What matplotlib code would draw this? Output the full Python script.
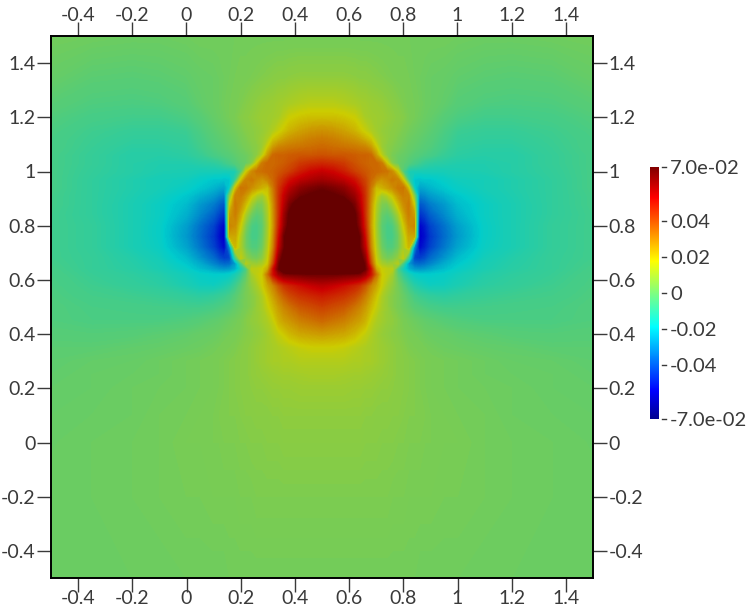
import matplotlib
matplotlib.use("Agg")
import matplotlib.pyplot as plt
import numpy as np
from matplotlib.cm import ScalarMappable
from matplotlib.colors import LinearSegmentedColormap, Normalize

plt.rcParams["font.family"] = ["Lato", "DejaVu Sans"]

# Data, field (units of 1e-3), left half, mirrored about x = 0.5
half_x = [0.5, 0.46, 0.42, 0.38, 0.36, 0.34, 0.32, 0.30, 0.28, 0.26, 0.24, 0.22,
          0.20, 0.18, 0.16, 0.14, 0.12, 0.10, 0.05, 0.0, -0.1, -0.2, -0.35, -0.5]
rows_y = [1.5, 1.35, 1.25, 1.2, 1.15, 1.12, 1.09, 1.06, 1.03, 1.0, 0.97, 0.94, 0.91, 0.88,
          0.84, 0.8, 0.76, 0.72, 0.68, 0.66, 0.64, 0.62, 0.58, 0.54, 0.5, 0.45, 0.4, 0.35,
          0.3, 0.25, 0.2, 0.1, 0.0, -0.2, -0.5]
field_half = [
    [2, 2, 2, 2, 2, 2, 2, 2, 2, 2, 2, 2, 2, 2, 2, 2, 2, 2, 2, 1.5, 1, 1, 1.5, 2],
    [7, 7, 7, 6.5, 6, 6, 5.5, 5, 4.5, 4, 3.5, 3, 3, 2.5, 2, 1.5, 1, 0.5, 0, -1, -2, -2.5, -2, 0],
    [14, 14, 13, 11.5, 10.5, 10, 9, 8.5, 8, 7, 6, 5, 4, 3, 2.5, 2, 1, 0.5, -1, -3, -4.5, -5, -4.5, -2.5],
    [20, 20, 19, 17, 14, 11, 10, 9.5, 9, 8, 7, 6, 5, 3.5, 2.5, 1.5, 0.5, -0.5, -3, -5, -7, -7, -6, -4],
    [28, 27, 25, 22, 19, 16, 12.5, 10, 8, 7, 6, 5, 3.5, 2, 1, 0, -1, -2, -5, -8, -9, -9, -7.5, -5],
    [32, 31, 29, 27, 25, 22, 19, 12, 9, 7, 5.5, 4, 2.5, 1, 0, -1, -2, -3, -6, -9, -10, -10, -8, -5.5],
    [35, 34, 33, 32, 31, 30, 26, 18, 9, 6, 4.5, 3, 1.5, 0, -1, -2, -3, -4, -7, -10, -11, -11, -8.5, -5.5],
    [39, 38, 38, 37, 36, 36, 35, 26, 14, 6, 3, 1, 0, -1.5, -3, -4, -5, -6, -9, -11, -12, -12, -9, -6],
    [46, 45, 43, 39, 37, 36, 35, 35, 32, 18, 5, 0, -1.5, -4, -6, -8, -10, -11, -12, -13, -13, -12, -9, -6],
    [54, 52, 48, 42, 40, 38, 36, 35, 34, 33, 28, 16, -5, -14, -15, -15, -15, -15, -15, -14, -13.5, -12, -9.5, -6],
    [60, 58, 55, 50, 45, 41, 35, 30, 27, 29, 32, 30, 17, -10, -20, -21, -20, -20, -18, -16, -15, -13, -10, -6],
    [68, 66, 63, 56, 50, 43, 32, 20, 22, 25, 28, 32, 33, 18, -18, -26, -25, -23, -20, -17.5, -15, -13, -10, -6],
    [73, 71, 68, 61, 54, 44, 30, 17, 9, 12, 18, 26, 31, 30, 5, -33, -31, -28, -24, -20, -16, -13.5, -10, -6.5],
    [85, 83, 76, 66, 56, 44, 28, 13, 4, 3, 10, 20, 28, 32, 17, -40, -37, -33, -28, -22, -17, -14, -10, -6.5],
    [85, 85, 82, 71, 60, 44, 27, 11, 0, -3, 1, 10, 23, 31, 26, -47, -43, -38, -31, -24, -17, -14, -10, -7],
    [85, 85, 84, 73, 62, 46, 26, 10, -2, -6, -5, 3, 17, 28, 30, -55, -50, -43, -35, -27, -17.5, -14, -9.5, -7],
    [85, 85, 84, 78, 68, 50, 28, 11, -1, -6, -6, 0, 12, 24, 24, -56, -52, -45, -36, -28, -17.5, -14, -9.5, -7],
    [85, 85, 85, 80, 68, 54, 30, 13, 1, -4, -4, 1, 11, 21, -30, -54, -49, -43, -34, -26, -17, -14, -9.5, -7],
    [85, 85, 85, 84, 74, 62, 36, 16, 6, 2, 3, 7, 15, -10, -42, -44, -41, -36, -29, -22, -15.5, -12.5, -9, -7],
    [85, 85, 85, 84, 78, 66, 40, 18, 11, 8, 9, 13, -8, -28, -36, -37, -35, -32, -25, -20, -14.5, -12, -9, -6.5],
    [85, 85, 85, 84, 78, 68, 50, 24, 17, 15, 14, -6, -16, -24, -28, -29, -28, -26, -22, -18, -14, -11.5, -9, -6],
    [68, 68, 67, 66, 65, 60, 50, 33, 18, 15, 10, -2, -10, -15, -18, -19, -19, -19, -18, -16, -12.5, -10.5, -8.5, -5.5],
    [56, 54, 51, 47, 44, 38, 30, 24, 17, 11, 7, 2, -3, -8, -12, -14, -15.5, -16.5, -16, -14, -11, -9.5, -7.5, -5],
    [48, 46, 44, 40, 36, 31, 25, 19, 12, 8, 5, 3, 0, -3, -6, -8, -9, -10, -11, -10, -8.5, -7.5, -6.5, -4.5],
    [42, 40, 38, 33, 30, 26, 21, 16, 11, 8, 5, 3, 1, -1, -3, -4, -5, -6, -7, -7, -6.5, -6, -5.5, -4],
    [35, 33, 31, 27, 25, 22, 16, 12, 10, 8, 7, 5, 3, 2, 1, 0, -1, -1.5, -3, -4, -5, -5, -5, -4],
    [26, 25, 24, 21, 18, 15.5, 12.5, 10, 8, 7, 6, 5, 4, 3, 2.5, 2, 1, 0.5, 0, -1, -2, -3, -3.5, -3],
    [17, 17, 16, 14, 13, 12, 11, 10, 9, 8, 7, 6, 5, 4, 3.5, 3, 2.5, 2, 1, 0.5, -0.5, -1, -2, -2],
    [13, 13, 13, 12, 12, 11, 11, 10, 9, 8, 7, 6, 5.5, 5, 4.5, 4, 3.5, 3, 2.5, 2, 1, 0, -0.5, -1.5],
    [11, 11, 10.5, 10, 10, 9.5, 9, 8.5, 8, 7.5, 7, 6, 5.5, 5, 4.5, 4, 3.5, 3, 2.5, 2, 1, 0.5, 0, -1],
    [9, 9, 9, 8.5, 8.5, 8, 8, 7.5, 7, 7, 6.5, 6, 5.5, 5, 4.5, 4, 3.5, 3, 2.5, 2, 1.5, 1, 0, -0.5],
    [7, 7, 7, 7, 7, 6.5, 6.5, 6, 6, 6, 5.5, 5.5, 5, 4.5, 4.5, 4, 4, 3.5, 3, 2.5, 2, 1, 0.5, 0],
    [6, 6, 6, 6, 6, 5.5, 5.5, 5.5, 5, 5, 5, 4.5, 4.5, 4, 4, 4, 3.5, 3.5, 3, 3, 2, 1.5, 1, 0.4],
    [4, 4, 4, 4, 4, 4, 4, 4, 4, 4, 3.5, 3.5, 3.5, 3, 3, 3, 3, 3, 2.5, 2.5, 2, 1.5, 1, 0.8],
    [2, 2, 2, 2, 2, 2, 2, 2, 2, 2, 2, 2, 2, 2, 2, 1.5, 1.5, 1.5, 1.5, 1.5, 1, 1, 1, 1],
]
axis_ticks = [-0.4, -0.2, 0, 0.2, 0.4, 0.6, 0.8, 1, 1.2, 1.4]
axis_labels = ["-0.4", "-0.2", "0", "0.2", "0.4", "0.6", "0.8", "1", "1.2", "1.4"]
bar_ticks = [-0.07, -0.04, -0.02, 0, 0.02, 0.04, 0.07]
bar_labels = ["-7.0e-02", "-0.04", "-0.02", "0", "0.02", "0.04", "7.0e-02"]

W, H = 747, 606
TEXT = "#3a3a3a"

# ParaView style jet, the lit surface is 0.8 of the legend colours
nodes = [0, 0.111, 0.365, 0.5, 0.627, 0.88, 1]
colors = [(0, 0, 0.5625), (0, 0, 1), (0, 1, 1), (0.5, 1, 0.5), (1, 1, 0), (1, 0, 0), (0.5, 0, 0)]
jet = LinearSegmentedColormap.from_list("pv_jet", list(zip(nodes, colors)), N=512)
lit = LinearSegmentedColormap.from_list(
    "pv_jet_lit", [(n, tuple(0.8 * v for v in c)) for n, c in zip(nodes, colors)], N=512)
norm = Normalize(-0.07, 0.07)

half = np.array(field_half) * 1e-3
x = np.concatenate([half_x, 1 - np.array(half_x[1:])])
z = np.hstack([half, half[:, 1:]])
order = np.argsort(x)

fig = plt.figure(figsize=(W / 100, H / 100), dpi=100)
ax = fig.add_axes([51 / W, 1 - 578 / H, 542 / W, 542 / H])
ax.contourf(x[order], rows_y, z[:, order], levels=np.linspace(-0.07, 0.07, 281),
            cmap=lit, norm=norm, extend="both", antialiased=False)
ax.set_xlim(-0.5, 1.5)
ax.set_ylim(-0.5, 1.5)
ax.set_xticks(axis_ticks, axis_labels)
ax.set_yticks(axis_ticks, axis_labels)
ax.tick_params(right=True, labelright=True, length=10, width=1,
               color=TEXT, labelcolor=TEXT, labelsize=14, pad=-1)
ax.tick_params(axis="y", pad=1)
top = ax.secondary_xaxis("top")
top.set_xticks(axis_ticks, axis_labels)
top.tick_params(length=10, width=1, color=TEXT, labelcolor=TEXT, labelsize=14, pad=-1.5)
top.spines["top"].set_visible(False)
for s in ax.spines.values():
    s.set_linewidth(1.4)

cax = fig.add_axes([650 / W, 1 - 419 / H, 9 / W, 252 / H])
cb = fig.colorbar(ScalarMappable(norm=norm, cmap=jet), cax=cax)
cb.outline.set_visible(False)
cb.set_ticks(bar_ticks, labels=bar_labels)
cax.tick_params(length=0, pad=8, labelsize=14.5, labelcolor=TEXT)
for v in bar_ticks:
    cax.plot([1.35, 1.8], [v, v], color=TEXT, lw=1, clip_on=False,
             transform=cax.get_yaxis_transform())

fig.savefig("out.png", dpi=100)
